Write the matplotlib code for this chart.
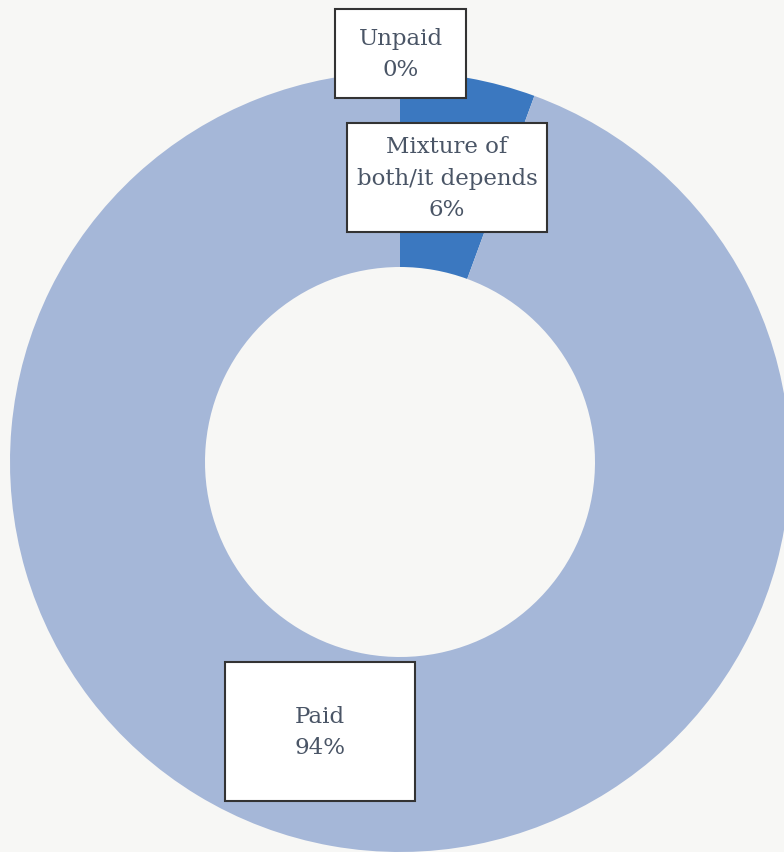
import matplotlib.pyplot as plt
from matplotlib.patches import Rectangle

categories = ["Unpaid", "Mixture of\nboth/it depends", "Paid"]
shares = [0.0, 5.6, 94.4]
colors = ["#2f68b5", "#3b78c0", "#a5b7d8"]

BG = "#f7f7f5"
TEXT = "#4a5566"

fig = plt.figure(figsize=(7.84, 8.53), dpi=100, facecolor=BG)
ax = fig.add_axes([0, 0, 1, 1])
ax.set_facecolor(BG)

# pie drawn in pixel-like coordinates (y up)
ax.pie(
    shares,
    colors=colors,
    startangle=90,
    counterclock=False,
    center=(400, 390),
    radius=390,
    wedgeprops=dict(width=195, linewidth=0),
)
ax.set_xlim(0, 784)
ax.set_ylim(0, 853)
ax.set_aspect("equal")
ax.axis("off")

# label boxes: (x0, y0, w, h)
boxes = [(335, 754, 131, 89), (347, 620, 200, 109), (225, 51, 190, 139)]
for name, val, (x0, y0, w, h) in zip(categories, shares, boxes):
    ax.add_patch(Rectangle((x0, y0), w, h, facecolor="white",
                           edgecolor="#333333", linewidth=1.5, zorder=3))
    ax.text(x0 + w / 2, y0 + h / 2, f"{name}\n{round(val):.0f}%",
            ha="center", va="center", fontsize=16.5, color=TEXT,
            family="DejaVu Serif", linespacing=1.55, zorder=4)

fig.savefig("out.png", dpi=100, facecolor=BG)
